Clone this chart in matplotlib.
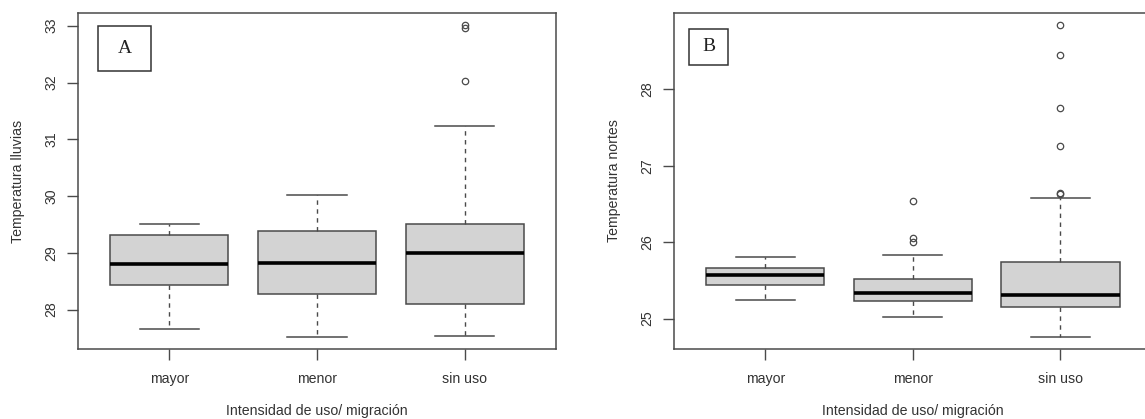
import matplotlib
matplotlib.use("Agg")
import matplotlib.pyplot as plt
from matplotlib.patches import Rectangle

# grupos
cats = ['mayor', 'menor', 'sin uso']

# panel A: temperatura lluvias
lluvias_whislo = [27.66, 27.52, 27.54]
lluvias_q1 = [28.44, 28.27, 28.09]
lluvias_med = [28.81, 28.82, 29.00]
lluvias_q3 = [29.32, 29.38, 29.51]
lluvias_whishi = [29.51, 30.02, 31.23]
lluvias_fliers = [[], [], [33.01, 32.96, 32.02]]
lluvias_ticks = [28, 29, 30, 31, 32, 33]

# panel B: temperatura nortes
nortes_whislo = [25.24, 25.02, 24.76]
nortes_q1 = [25.44, 25.23, 25.15]
nortes_med = [25.57, 25.33, 25.31]
nortes_q3 = [25.66, 25.52, 25.74]
nortes_whishi = [25.80, 25.83, 26.58]
nortes_fliers = [[], [26.54, 26.05, 26.00], [28.84, 28.45, 27.76, 27.26, 26.64, 26.63]]
nortes_ticks = [25, 26, 27, 28]

plt.rcParams['font.family'] = ['Liberation Sans', 'DejaVu Sans']
TXT = '#333333'
EDGE = '#4a4a4a'
FS = 10.2


def make_stats(whislo, q1, med, q3, whishi, fliers):
    stats = []
    for i in range(len(cats)):
        stats.append({'whislo': whislo[i], 'q1': q1[i], 'med': med[i],
                      'q3': q3[i], 'whishi': whishi[i], 'fliers': fliers[i],
                      'label': cats[i]})
    return stats


def draw_panel(ax, stats, ticks, ylabel, letter, box_pos):
    ax.bxp(stats, positions=[1, 2, 3], widths=0.8, capwidths=0.4,
           patch_artist=True, shownotches=False,
           boxprops=dict(facecolor='#d3d3d3', edgecolor=EDGE, linewidth=1.1),
           medianprops=dict(color='black', linewidth=2.6, solid_capstyle='butt'),
           whiskerprops=dict(color=EDGE, linewidth=1.0, linestyle=(0, (3.2, 3.2))),
           capprops=dict(color=EDGE, linewidth=1.1),
           flierprops=dict(marker='o', markersize=4.6, markerfacecolor='none',
                           markeredgecolor=EDGE, markeredgewidth=0.9))
    lo = min(min(s['whislo'] for s in stats), min(min(s['fliers'], default=99) for s in stats))
    hi = max(max(s['whishi'] for s in stats), max(max(s['fliers'], default=-99) for s in stats))
    pad = (hi - lo) * 0.04
    ax.set_ylim(lo - pad, hi + pad)
    ax.set_xlim(0.38, 3.62)
    ax.set_yticks(ticks)
    ax.set_yticklabels([str(t) for t in ticks], rotation=90, va='center')
    ax.set_xticks([1, 2, 3])
    ax.set_xticklabels(cats)
    ax.tick_params(axis='both', direction='out', length=8, width=1.0,
                   color=EDGE, labelcolor=TXT, labelsize=FS)
    ax.tick_params(axis='x', pad=8)
    ax.tick_params(axis='y', pad=6)
    for sp in ax.spines.values():
        sp.set_color(EDGE)
        sp.set_linewidth(1.1)
    ax.set_ylabel(ylabel, fontsize=FS, color=TXT, va='center')
    ax.set_xlabel('Intensidad de uso/ migración', fontsize=FS, color=TXT)
    ax.xaxis.set_label_coords(0.5, -0.183)
    ax.xaxis.label.set_va('center')
    x0, y0, x1, y1 = box_pos
    ax.add_patch(Rectangle((x0, y0), x1 - x0, y1 - y0, transform=ax.transAxes,
                           facecolor='white', edgecolor='#333333', linewidth=1.1,
                           clip_on=False, zorder=5))
    ax.text((x0 + x1) / 2, (y0 + y1) / 2, letter, transform=ax.transAxes,
            ha='center', va='center', fontsize=14, color='#222222',
            family=['Liberation Serif', 'DejaVu Serif'], zorder=6)


fig = plt.figure(figsize=(11.45, 4.19), dpi=100)
axA = fig.add_axes([0.0681, 0.1663, 0.4175, 0.8034])
axB = fig.add_axes([0.5884, 0.1663, 0.4177, 0.8034])

draw_panel(axA, make_stats(lluvias_whislo, lluvias_q1, lluvias_med, lluvias_q3,
                           lluvias_whishi, lluvias_fliers),
           lluvias_ticks, 'Temperatura lluvias', 'A', (0.0425, 0.828, 0.152, 0.9605))
axA.yaxis.set_label_coords(-0.1255, 0.5)

draw_panel(axB, make_stats(nortes_whislo, nortes_q1, nortes_med, nortes_q3,
                           nortes_whishi, nortes_fliers),
           nortes_ticks, 'Temperatura nortes', 'B', (0.0326, 0.8446, 0.1135, 0.9525))
axB.yaxis.set_label_coords(-0.125, 0.5)

fig.savefig('out.png', dpi=100)
